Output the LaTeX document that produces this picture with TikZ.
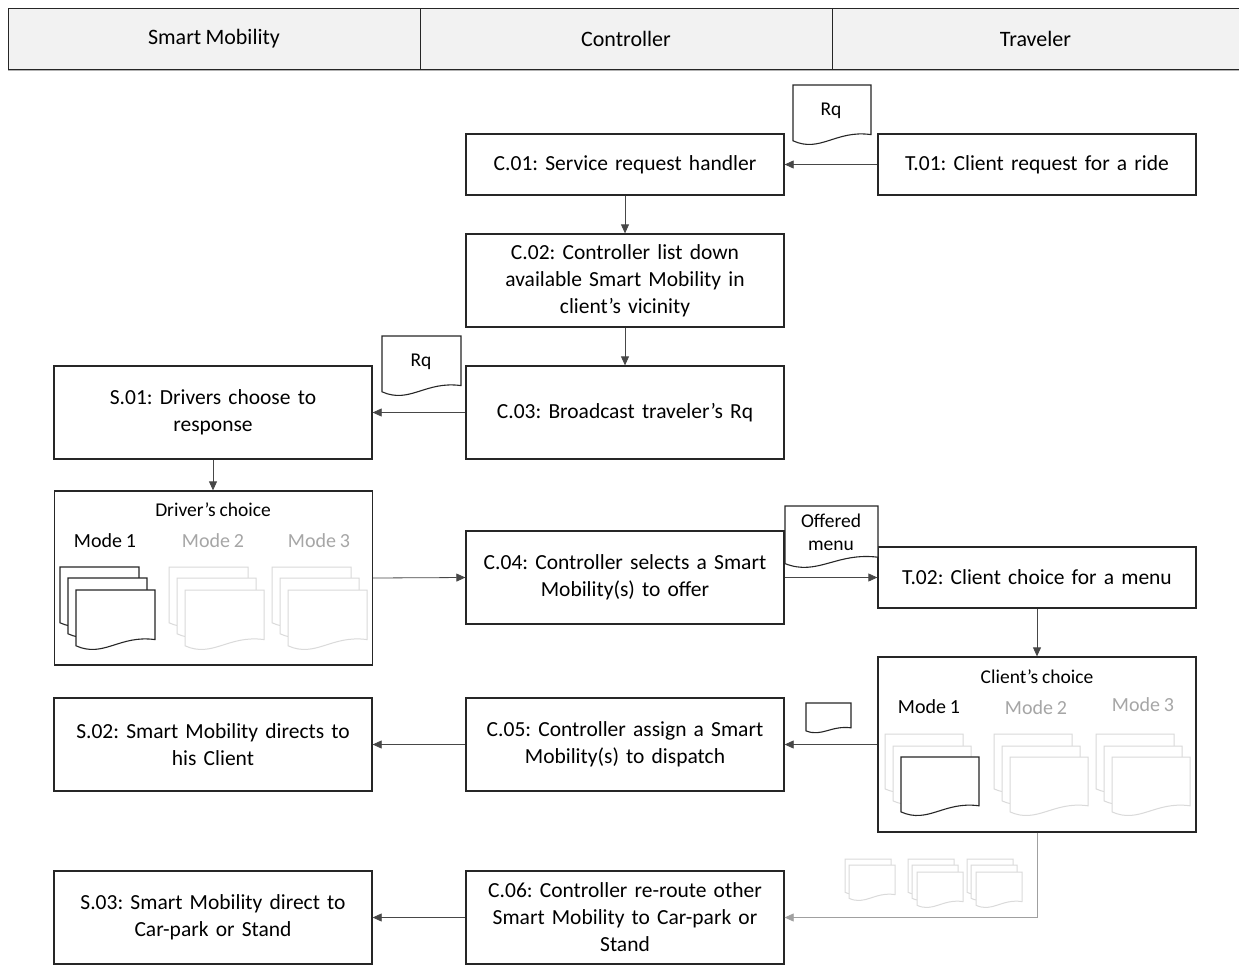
\documentclass[tikz,border=0pt]{standalone}
\usepackage{fontspec}
\setmainfont{Carlito}[WordSpace=0.85]
\usetikzlibrary{arrows.meta}
\frenchspacing

\definecolor{lanefill}{HTML}{F2F2F2}
\definecolor{ink}{HTML}{262626}
\definecolor{ghost}{HTML}{DADADA}
\definecolor{modegray}{HTML}{A6A6A6}
\definecolor{routegray}{HTML}{A0A0A0}

\tikzset{
  lane/.style={draw=ink, line width=1pt, fill=lanefill, minimum height=61pt,
    font=\fontsize{22}{26}\selectfont},
  proc/.style={draw=ink, line width=1.3pt, fill=white, minimum width=318pt,
    text width=306pt, align=center, inner sep=0pt,
    font=\fontsize{21.5}{27}\selectfont},
  panel/.style={draw=ink, line width=1.3pt, fill=white, minimum width=318pt,
    inner sep=0pt},
  flow/.style={draw=ink!85, line width=0.8pt, -{Triangle[length=9pt,width=8pt]}},
  grayflow/.style={draw=routegray, line width=0.8pt, -{Triangle[length=9pt,width=8pt]}},
  docline/.style={draw=ink, line width=1.1pt, fill=white},
  ghostdoc/.style={draw=ghost, line width=1pt, fill=white},
  doctext/.style={font=\fontsize{19.5}{23}\selectfont, align=center, inner sep=0pt},
  paneltitle/.style={font=\fontsize{19.5}{22}\selectfont, inner sep=0pt},
  modelabel/.style={font=\fontsize{20}{24}\selectfont, inner sep=0pt},
}

% document sheet with a wavy lower edge: [style] {x}{y}{width}{height}
\newcommand\docsheet[5][docline]{%
  \begin{scope}[shift={(#2,#3)}]
    \draw[#1] (0,0) -- (#4,0) -- (#4,{0.8*#5})
      .. controls ({0.55*#4},{0.72*#5}) and ({0.35*#4},{1.1*#5}) .. (0,{0.9*#5})
      -- cycle;
  \end{scope}}

\begin{document}
\begin{tikzpicture}[x=1pt,y=-1pt]
\useasboundingbox (0,0) rectangle (1239,964);

% swimlane header
\draw[gray!60, line width=2pt] (8,70) -- (1239,70);
\node[lane, minimum width=412pt] (lane1) at (214,38.5) {Smart Mobility};
\node[lane, minimum width=412pt] (lane2) at (626,38.5) {Controller};
\node[lane, minimum width=412pt, anchor=west] (lane3) at (832,38.5) {\hspace*{-6pt}Traveler};

% process boxes
\node[proc, minimum height=61pt] (c01) at (625,164.5) {C.01: Service request handler};
\node[proc, minimum height=61pt] (t01) at (1037,164.5) {T.01: Client request for a ride};
\node[proc, minimum height=93pt] (c02) at (625,280.5) {C.02: Controller list down\\available Smart Mobility in\\client’s vicinity};
\node[proc, minimum height=93pt] (c03) at (625,412.5) {C.03: Broadcast traveler’s Rq};
\node[proc, minimum height=93pt] (s01) at (213,412.5) {S.01: Drivers choose to\\response};
\node[panel, minimum height=174pt] (drv) at (213.5,578) {};
\node[proc, minimum height=93pt] (c04) at (625,577.5) {C.04: Controller selects a Smart\\Mobility(s) to offer};
\node[proc, minimum height=61pt] (t02) at (1037,577.5) {T.02: Client choice for a menu};
\node[panel, minimum height=175pt] (cli) at (1037,744.5) {};
\node[proc, minimum height=93pt] (c05) at (625,744.5) {C.05: Controller assign a Smart\\Mobility(s) to dispatch};
\node[proc, minimum height=93pt] (s02) at (213,744.5) {S.02: Smart Mobility directs to\\his Client};
\node[proc, minimum height=93pt] (c06) at (625,917.5) {C.06: Controller re-route other\\Smart Mobility to Car-park or\\Stand};
\node[proc, minimum height=93pt] (s03) at (213,917.5) {S.03: Smart Mobility direct to\\Car-park or Stand};

% driver's choice panel
\node[paneltitle] (drvtitle) at (213,510) {Driver’s choice};
\node[modelabel] (dm1) at (105,541) {Mode 1};
\node[modelabel, text=modegray] (dm2) at (213,541) {Mode 2};
\node[modelabel, text=modegray] (dm3) at (319,541) {Mode 3};
\docsheet{60}{567}{79}{62}
\docsheet{68}{578}{79}{62}
\docsheet{76}{590}{79}{62}
\docsheet[ghostdoc]{169}{567}{79}{62}
\docsheet[ghostdoc]{177}{578}{79}{62}
\docsheet[ghostdoc]{185}{590}{79}{62}
\docsheet[ghostdoc]{272}{567}{79}{62}
\docsheet[ghostdoc]{280}{578}{79}{62}
\docsheet[ghostdoc]{288}{590}{79}{62}

% client's choice panel
\node[paneltitle] (clititle) at (1037,677) {Client’s choice};
\node[modelabel] (cm1) at (929,707) {Mode 1};
\node[modelabel, text=modegray] (cm2) at (1036,708) {Mode 2};
\node[modelabel, text=modegray] (cm3) at (1143,705) {Mode 3};
\docsheet[ghostdoc]{885}{734}{78}{61}
\docsheet[ghostdoc]{893}{746}{78}{61}
\docsheet{901}{757}{78}{61}
\docsheet[ghostdoc]{994}{734}{78}{61}
\docsheet[ghostdoc]{1002}{746}{78}{61}
\docsheet[ghostdoc]{1010}{757}{78}{61}
\docsheet[ghostdoc]{1096}{734}{78}{61}
\docsheet[ghostdoc]{1104}{746}{78}{61}
\docsheet[ghostdoc]{1112}{757}{78}{61}

% connectors
\draw[flow] (t01.west) -- (c01.east);
\draw[flow] (c01.south) -- (c02.north);
\draw[flow] (c02.south) -- (c03.north);
\draw[flow] (c03.west) -- (s01.east);
\draw[flow] (s01.south) -- (drv.north -| s01.south);
\draw[flow] (drv.east) -- (c04.west);
\draw[flow] (c04.east) -- (t02.west);
\draw[flow] (t02.south) -- (cli.north);
\draw[flow] (cli.west) -- (c05.east);
\draw[flow] (c05.west) -- (s02.east);
\draw[grayflow] (cli.south) |- (c06.east);
\draw[flow] (c06.west) -- (s03.east);

% documents travelling along the connectors
\docsheet{793}{85}{78}{62}
\node[doctext] (rq1) at (831,111) {Rq};
\docsheet{382}{336}{79}{62}
\node[doctext] (rq2) at (421,362) {Rq};
\docsheet{785}{506}{93}{64}
\node[doctext] (menu) at (831,532) {Offered\\menu};
\docsheet{806}{703}{45}{31}

% remaining options sent back
\docsheet[ghostdoc]{845}{859}{46}{37}
\docsheet[ghostdoc]{849}{865}{46}{37}
\docsheet[ghostdoc]{908}{859}{46}{37}
\docsheet[ghostdoc]{912}{865}{46}{37}
\docsheet[ghostdoc]{917}{872}{46}{37}
\docsheet[ghostdoc]{967}{859}{46}{37}
\docsheet[ghostdoc]{971}{865}{46}{37}
\docsheet[ghostdoc]{976}{872}{46}{37}
\end{tikzpicture}
\end{document}
